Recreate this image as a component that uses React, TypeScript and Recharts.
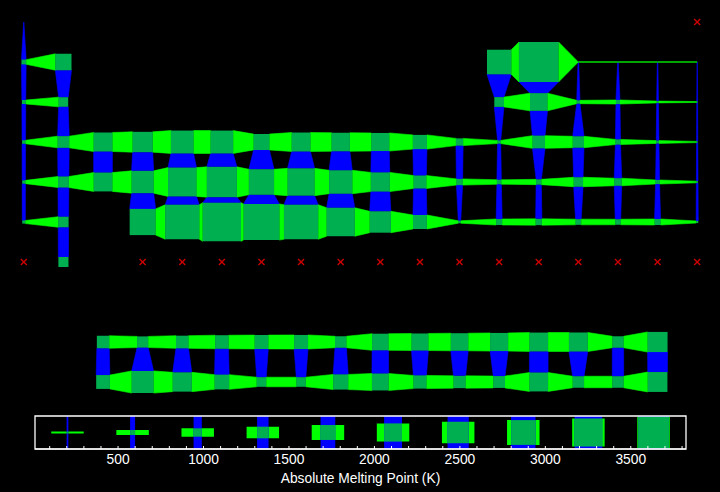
import React from 'react';
import { ComposedChart, XAxis, YAxis, ReferenceArea, Scatter } from 'recharts';

// ---- data: absolute melting points (K), laid out as the periodic table ----
const U = -1; // element exists but melting point unknown (red cross)
const _ = null; // no element in this slot

const period1 = [14.01, _, _, _, _, _, _, _, _, _, _, _, _, _, _, _, _, U];
const period2 = [453.69, 1560, _, _, _, _, _, _, _, _, _, _, 2349, 3823, 63.15, 54.36, 53.53, 24.56];
const period3 = [370.87, 923, _, _, _, _, _, _, _, _, _, _, 933.47, 1687, 317.3, 388.36, 171.6, 83.8];
const period4 = [336.53, 1115, 1814, 1941, 2183, 2180, 1519, 1811, 1768, 1728, 1357.77, 692.68, 302.91, 1211.4, 1090, 494, 265.8, 115.79];
const period5 = [312.46, 1050, 1799, 2128, 2750, 2896, 2430, 2607, 2237, 1828.05, 1234.93, 594.22, 429.75, 505.08, 903.78, 722.66, 386.85, 161.4];
const period6 = [301.59, 1000, _, 2506, 3290, 3695, 3459, 3306, 2719, 2041.4, 1337.33, 234.32, 577, 600.61, 544.4, 527, 575, 202];
const period7 = [U, 973, _, U, U, U, U, U, U, U, U, U, U, U, U, U, U, U];
const lanthanides = [_, _, 1193, 1068, 1208, 1297, 1315, 1345, 1099, 1585, 1629, 1680, 1734, 1802, 1818, 1097, 1925, _];
const actinides = [_, _, 1323, 2115, 1841, 1405.3, 917, 912.5, 1449, 1613, 1259, 1173, 1133, 1800, 1100, 1100, 1900, _];

const rowNumbers = [1, 2, 3, 4, 5, 6, 7, 9, 10];
const rowValues = [period1, period2, period3, period4, period5, period6, period7, lanthanides, actinides];

const MP_MIN = 14.01;
const MP_MAX = 3823;

// legend
const legendValues = [204, 585, 966, 1347, 1728, 2109, 2490, 2871, 3252, 3633];
const legendTicks = [100, 200, 300, 400, 500, 600, 700, 800, 900, 1000, 1100, 1200, 1300, 1400, 1500, 1600, 1700, 1800, 1900, 2000, 2100, 2200, 2300, 2400, 2500, 2600, 2700, 2800, 2900, 3000, 3100, 3200, 3300, 3400, 3500, 3600, 3700, 3800];
const legendLabelStep = 500;
const legendTitle = 'Absolute Melting Point (K)';

// ---- styles ----
const GREEN = '#00ff00';
const BLUE = '#0000ff';
const DARK = '#00b050';
const RED = '#cc0000';
const FONT = '"Liberation Sans", Arial, Helvetica, sans-serif';
const LEGEND_CELL = 190; // width of one legend cell in K units

// ---- derived geometry (in data units) ----
type Conn = { x1: number; x2: number; y1: number; y2: number; a: number; b: number };
type Sq = { x1: number; x2: number; y1: number; y2: number };

const known = (v: any) => typeof v === 'number' && v > 0;
const size = (v: number) => v / MP_MAX;

const squares: Sq[] = [];
const crosses: { x: number; y: number }[] = [];
const hConn: Conn[] = [];
const vConn: Conn[] = [];

rowValues.forEach((vals, k) => {
  const row = rowNumbers[k];
  vals.forEach((v: any, i: number) => {
    const col = i + 1;
    if (known(v)) {
      const s = size(v);
      squares.push({ x1: col - s / 2, x2: col + s / 2, y1: row - s / 2, y2: row + s / 2 });
    } else if (v === U) {
      crosses.push({ x: col, y: row });
    }
    const w = vals[i + 1];
    if (i < vals.length - 1 && known(v) && known(w)) {
      const sa = size(v as number);
      const sb = size(w as number);
      const m = Math.max(sa, sb);
      hConn.push({ x1: col + sa / 2, x2: col + 1 - sb / 2, y1: row - m / 2, y2: row + m / 2, a: sa / m, b: sb / m });
    }
  });
  if (k + 1 < rowValues.length && rowNumbers[k + 1] === row + 1) {
    const below = rowValues[k + 1];
    vals.forEach((v: any, i: number) => {
      const w = below[i];
      if (known(v) && known(w)) {
        const col = i + 1;
        const sa = size(v as number);
        const sb = size(w as number);
        const m = Math.max(sa, sb);
        vConn.push({ x1: col - m / 2, x2: col + m / 2, y1: row + sa / 2, y2: row + 1 - sb / 2, a: sa / m, b: sb / m });
      }
    });
  }
});

const hShape = (a: number, b: number, fill: string) => (p: any) => {
  const { x, y, width: w, height: h } = p;
  const cy = y + h / 2;
  const pts = `${x},${cy - (a * h) / 2} ${x + w},${cy - (b * h) / 2} ${x + w},${cy + (b * h) / 2} ${x},${cy + (a * h) / 2}`;
  return <polygon points={pts} fill={fill} stroke={fill} strokeWidth={0.6} />;
};

const vShape = (a: number, b: number, fill: string) => (p: any) => {
  const { x, y, width: w, height: h } = p;
  const cx = x + w / 2;
  const pts = `${cx - (a * w) / 2},${y} ${cx + (a * w) / 2},${y} ${cx + (b * w) / 2},${y + h} ${cx - (b * w) / 2},${y + h}`;
  return <polygon points={pts} fill={fill} stroke={fill} strokeWidth={0.6} />;
};

const CrossShape = (p: any) => {
  const { cx, cy } = p;
  const r = 3;
  return (
    <g stroke={RED} strokeWidth={1.4}>
      <line x1={cx - r} y1={cy - r} x2={cx + r} y2={cy + r} />
      <line x1={cx - r} y1={cy + r} x2={cx + r} y2={cy - r} />
    </g>
  );
};

const LegendTick = (p: any) => {
  const { x, y, payload } = p;
  if (payload.value % legendLabelStep !== 0) return <g />;
  return (
    <text x={x} y={y} dy="0.71em" textAnchor="middle" fill="#fff" fontSize={13.8}>
      {payload.value}
    </text>
  );
};

const legendPoints = legendValues.map((v) => ({ x: v, y: 0.5 }));

export default function App() {
  return (
    <div
      style={{
        position: 'fixed',
        left: 0,
        top: 0,
        width: 720,
        height: 492,
        background: '#000',
        fontFamily: FONT,
        overflow: 'hidden',
      }}
    >
      <div style={{ position: 'absolute', left: 0, top: 0 }}>
        <ComposedChart width={720} height={405} margin={{ top: 2, right: 3, bottom: 3, left: 4 }}>
          <XAxis type="number" dataKey="x" domain={[0.5, 18.5]} allowDataOverflow hide />
          <YAxis type="number" dataKey="y" domain={[0.5, 10.5]} allowDataOverflow reversed hide />
          {vConn.map((c, i) => (
            <ReferenceArea key={'v' + i} x1={c.x1} x2={c.x2} y1={c.y1} y2={c.y2} shape={vShape(c.a, c.b, BLUE)} />
          ))}
          {hConn.map((c, i) => (
            <ReferenceArea key={'h' + i} x1={c.x1} x2={c.x2} y1={c.y1} y2={c.y2} shape={hShape(c.a, c.b, GREEN)} />
          ))}
          {squares.map((s, i) => (
            <ReferenceArea key={'s' + i} x1={s.x1} x2={s.x2} y1={s.y1} y2={s.y2} fill={DARK} fillOpacity={1} stroke="none" />
          ))}
          <Scatter data={crosses} shape={CrossShape} isAnimationActive={false} />
        </ComposedChart>
      </div>
      <div style={{ position: 'absolute', left: 0, top: 405 }}>
        <ComposedChart width={720} height={87} margin={{ top: 11, right: 34, bottom: 7, left: 35 }}>
          <XAxis
            type="number"
            dataKey="x"
            domain={[MP_MIN, MP_MAX]}
            allowDataOverflow
            ticks={legendTicks}
            interval={0}
            tickSize={-3}
            tickMargin={8}
            tick={LegendTick}
            height={36}
            stroke="#fff"
            tickLine={{ stroke: '#fff' }}
            axisLine={{ stroke: '#fff' }}
            label={{ value: legendTitle, position: 'insideBottom', offset: 2, fill: '#fff', fontSize: 13.8 }}
          />
          <YAxis type="number" dataKey="y" domain={[0, 1]} allowDataOverflow hide />
          {legendValues.map((v, i) => {
            const f = size(v);
            return (
              <ReferenceArea
                key={'lg' + i}
                x1={v - LEGEND_CELL / 2}
                x2={v + LEGEND_CELL / 2}
                y1={0.5 - f / 2}
                y2={0.5 + f / 2}
                fill={GREEN}
                fillOpacity={1}
                stroke="none"
              />
            );
          })}
          {legendValues.map((v, i) => {
            const f = size(v);
            return (
              <ReferenceArea
                key={'lb' + i}
                x1={v - (f * LEGEND_CELL) / 2}
                x2={v + (f * LEGEND_CELL) / 2}
                y1={0}
                y2={1}
                fill={BLUE}
                fillOpacity={1}
                stroke="none"
              />
            );
          })}
          {legendValues.map((v, i) => {
            const f = size(v);
            return (
              <ReferenceArea
                key={'ls' + i}
                x1={v - (f * LEGEND_CELL) / 2}
                x2={v + (f * LEGEND_CELL) / 2}
                y1={0.5 - f / 2}
                y2={0.5 + f / 2}
                fill={DARK}
                fillOpacity={1}
                stroke="none"
              />
            );
          })}
          <ReferenceArea x1={MP_MIN} x2={MP_MAX} y1={0} y2={1} fill="none" stroke="#fff" strokeWidth={1.3} />
          <Scatter data={legendPoints} shape={() => <g />} isAnimationActive={false} />
        </ComposedChart>
      </div>
    </div>
  );
}
